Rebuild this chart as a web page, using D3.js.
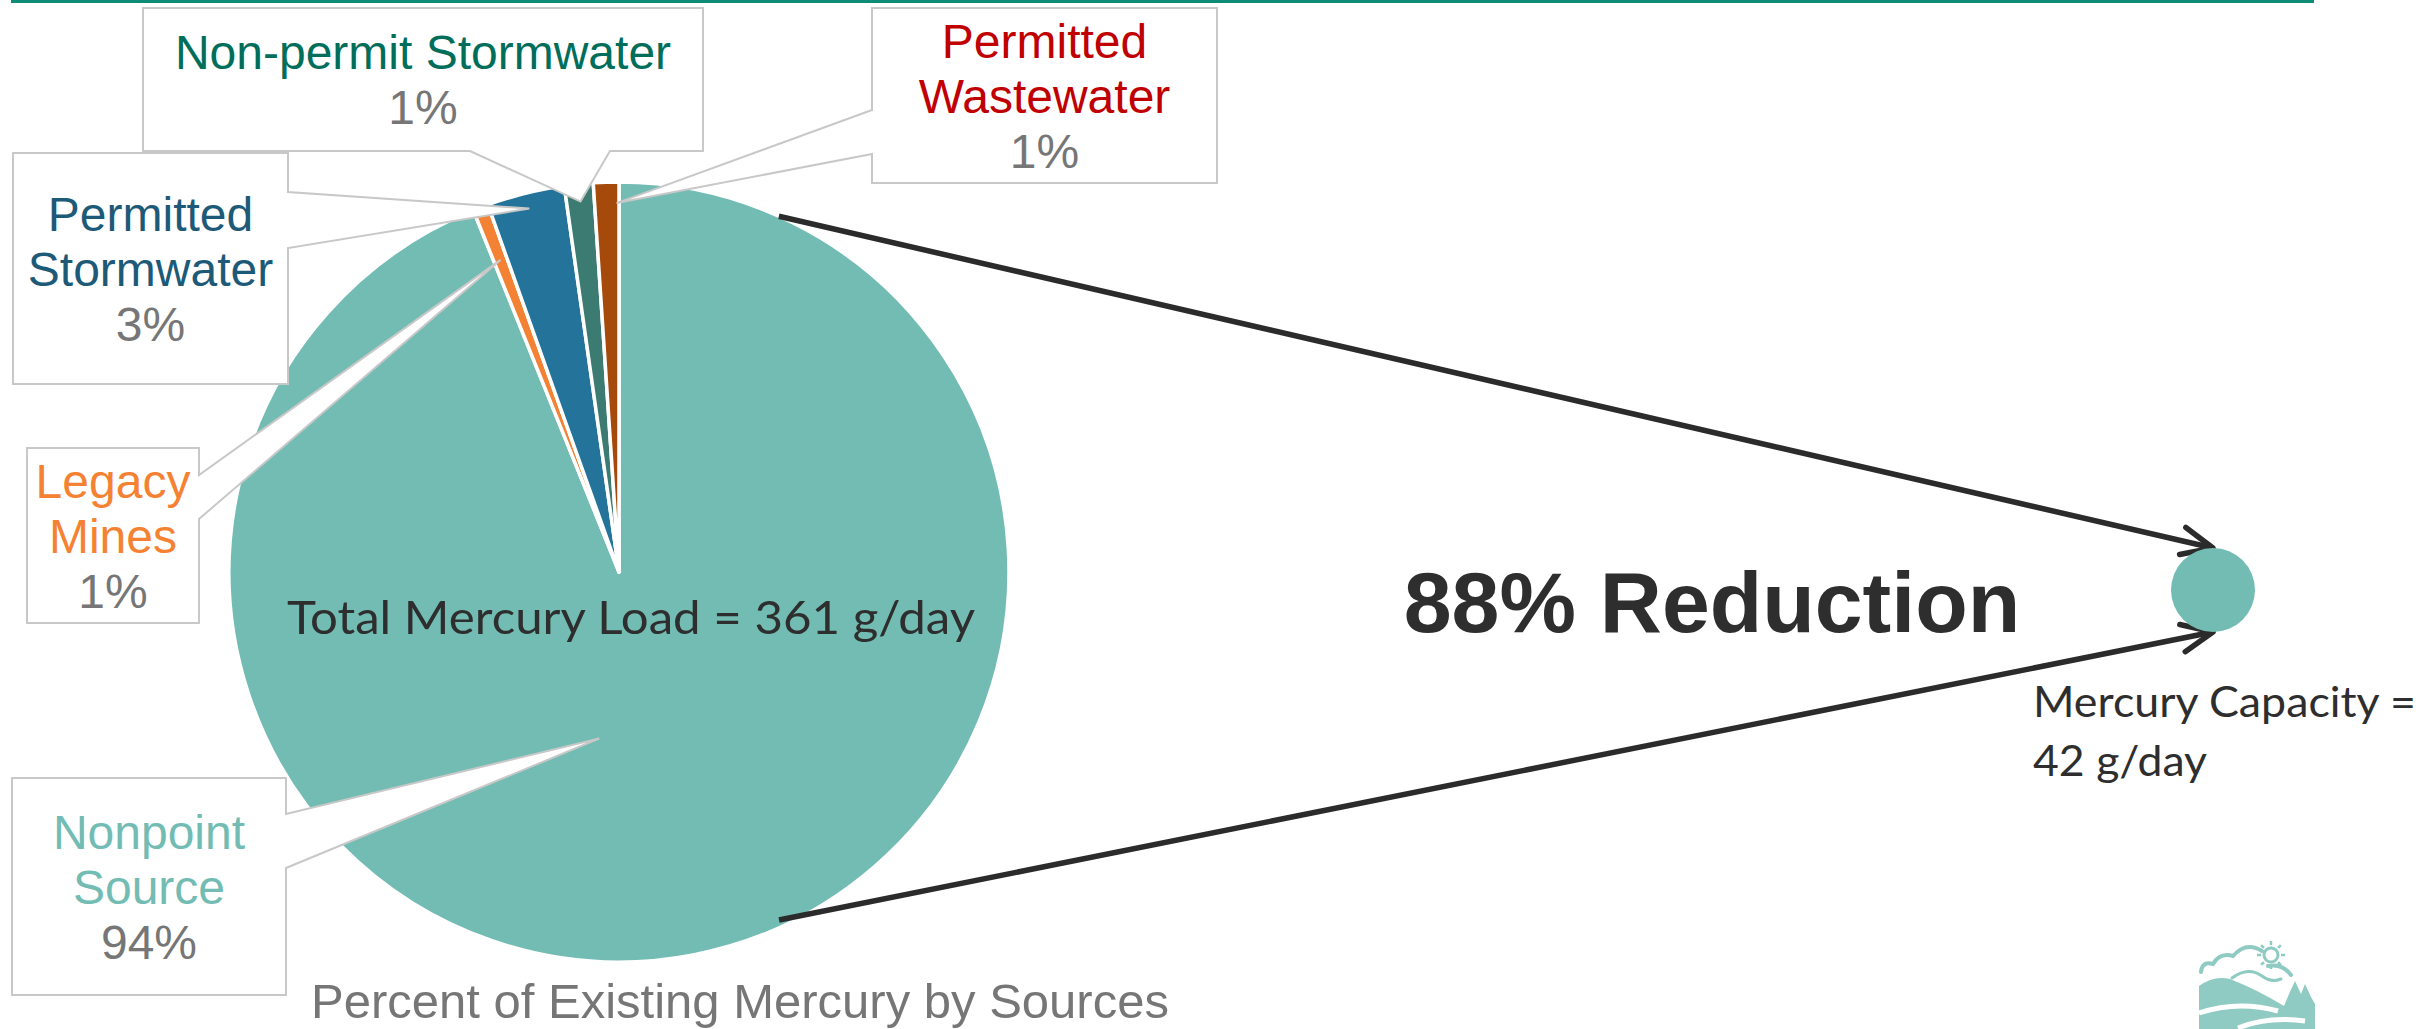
<!DOCTYPE html>
<html>
<head>
<meta charset="utf-8">
<script src="https://cdn.jsdelivr.net/npm/d3@7"></script>
<style>
  html, body { margin: 0; padding: 0; background: #fff; }
  svg { display: block; }
</style>
</head>
<body>
<div id="chart"></div>
<script>
// --- data (g/day; total is 361) ---
const sources = ['Nonpoint\nSource', 'Legacy\nMines', 'Permitted\nStormwater', 'Non-permit Stormwater', 'Permitted\nWastewater'];
const loads = [339, 2.3, 11.6, 4.3, 3.8];
const capacity = 42;
const chartTitle = 'Percent of Existing Mercury by Sources';

// --- styles ---
const sliceColors = ['#72bcb4', '#f38234', '#23739a', '#3b7b71', '#a64a0b'];
const labelColors = ['#72bcb4', '#f58232', '#1d5a78', '#006e5a', '#c00000'];
const pctColor = '#767676';
const darkText = '#2e2e2e';
const arial = '"Liberation Sans", Arial, sans-serif';
const calibri = 'Lato, "Open Sans", sans-serif';

// --- layout ---
const W = 2425, H = 1029;
const pieX = 619, pieY = 572, R = 390;
const capX = 2213, capY = 590, capR = 42;
// callout boxes: rectangle + which edge the pointer leaves from (p1..p2 along that edge)
const boxes = [
  { x0: 12, y0: 778, x1: 286, y1: 995, side: 'right', p1: 814, p2: 868 },
  { x0: 27, y0: 448, x1: 199, y1: 623, side: 'right', p1: 475, p2: 519 },
  { x0: 13, y0: 153, x1: 288, y1: 384, side: 'right', p1: 192, p2: 248 },
  { x0: 143, y0: 8, x1: 703, y1: 151, side: 'bottom', p1: 470, p2: 610 },
  { x0: 872, y0: 8, x1: 1217, y1: 183, side: 'left', p1: 110, p2: 154 }
];
// where the pointer tip sits inside its slice: [fraction of slice angle, fraction of radius]
const tipPos = [[0.5525, 0.43], [0.5, 0.856], [0.5, 0.96], [0.5, 0.955], [0.9, 0.946]];

const total = d3.sum(loads);

const svg = d3.select('#chart').append('svg')
  .attr('width', W)
  .attr('height', H)
  .attr('viewBox', [0, 0, W, H]);

svg.append('rect').attr('width', W).attr('height', H).attr('fill', '#fff');

// thin teal rule across the top
svg.append('line')
  .attr('x1', 11).attr('x2', 2314)
  .attr('y1', 1.5).attr('y2', 1.5)
  .attr('stroke', '#0f8c76')
  .attr('stroke-width', 3);

// --- pie ---
const pie = d3.pie().sort(null).value(d => d);
const arcs = pie(loads);
const arc = d3.arc().innerRadius(0).outerRadius(R);

const pieG = svg.append('g').attr('transform', `translate(${pieX},${pieY})`);
pieG.selectAll('path')
  .data(arcs)
  .join('path')
  .attr('d', arc)
  .attr('fill', (d, i) => sliceColors[i])
  .attr('stroke', '#fff')
  .attr('stroke-width', 3.5)
  .attr('stroke-linejoin', 'round');

function polar(angle, r) {
  return [pieX + r * Math.sin(angle), pieY - r * Math.cos(angle)];
}

function calloutPath(b, tip) {
  let pts;
  if (b.side === 'right') {
    pts = [[b.x0, b.y0], [b.x1, b.y0], [b.x1, b.p1], tip, [b.x1, b.p2], [b.x1, b.y1], [b.x0, b.y1]];
  } else if (b.side === 'left') {
    pts = [[b.x0, b.y0], [b.x1, b.y0], [b.x1, b.y1], [b.x0, b.y1], [b.x0, b.p2], tip, [b.x0, b.p1]];
  } else {
    pts = [[b.x0, b.y0], [b.x1, b.y0], [b.x1, b.y1], [b.p2, b.y1], tip, [b.p1, b.y1], [b.x0, b.y1]];
  }
  return d3.line()(pts) + 'Z';
}

// total load label inside the pie
svg.append('text')
  .attr('x', 287)
  .attr('y', 634)
  .attr('font-family', calibri)
  .attr('font-size', 47)
  .attr('fill', darkText)
  .attr('textLength', 688)
  .attr('lengthAdjust', 'spacingAndGlyphs')
  .text(`Total Mercury Load = ${Math.round(total)} g/day`);

// --- callouts ---
const lineH = 55, fontSize = 48, capH = fontSize * 0.716;
const callouts = svg.append('g');
arcs.forEach((d, i) => {
  const b = boxes[i];
  const [fa, fr] = tipPos[i];
  const tip = polar(d.startAngle + fa * (d.endAngle - d.startAngle), fr * R);
  const g = callouts.append('g');
  g.append('path')
    .attr('d', calloutPath(b, tip))
    .attr('fill', '#fff')
    .attr('stroke', '#c8c8c8')
    .attr('stroke-width', 2)
    .attr('stroke-linejoin', 'miter');

  const lines = sources[i].split('\n');
  const pct = `${Math.round(d.data / total * 100)}%`;
  const all = lines.concat([pct]);
  const midX = (b.x0 + b.x1) / 2;
  const midY = (b.y0 + b.y1) / 2;
  const firstBase = midY - (all.length - 1) * lineH / 2 + capH / 2;
  g.selectAll('text')
    .data(all)
    .join('text')
    .attr('x', midX)
    .attr('y', (t, k) => firstBase + k * lineH)
    .attr('text-anchor', 'middle')
    .attr('font-family', arial)
    .attr('font-size', fontSize)
    .attr('fill', (t, k) => k === all.length - 1 ? pctColor : labelColors[i])
    .text(t => t);
});

// chart title under the pie
svg.append('text')
  .attr('x', 740)
  .attr('y', 1018)
  .attr('text-anchor', 'middle')
  .attr('font-family', arial)
  .attr('font-size', 49)
  .attr('fill', pctColor)
  .text(chartTitle);

// --- arrows from the pie to the capacity circle ---
const arrowStarts = [[24.2, 1.0], [155.3, 0.982]]; // degrees clockwise from 12 o'clock, radius fraction
const arrowEnds = [[capX, capY - capR], [capX, capY + capR]];
const arrowG = svg.append('g')
  .attr('stroke', '#2b2b2b')
  .attr('stroke-width', 5.5)
  .attr('fill', 'none');

arrowStarts.forEach(([deg, fr], i) => {
  const s = polar(deg * Math.PI / 180, fr * R);
  const e = arrowEnds[i];
  arrowG.append('path')
    .attr('d', d3.line()([s, e]));
  const ang = Math.atan2(e[1] - s[1], e[0] - s[0]);
  const len = 34, spread = 24 * Math.PI / 180;
  const a1 = [e[0] - len * Math.cos(ang - spread), e[1] - len * Math.sin(ang - spread)];
  const a2 = [e[0] - len * Math.cos(ang + spread), e[1] - len * Math.sin(ang + spread)];
  arrowG.append('path')
    .attr('d', d3.line()([a1, e, a2]))
    .attr('stroke-linecap', 'round')
    .attr('stroke-linejoin', 'round');
});

svg.append('circle')
  .attr('cx', capX)
  .attr('cy', capY)
  .attr('r', capR)
  .attr('fill', sliceColors[0]);

svg.append('text')
  .attr('x', 1712)
  .attr('y', 632)
  .attr('text-anchor', 'middle')
  .attr('font-family', arial)
  .attr('font-weight', 'bold')
  .attr('font-size', 86)
  .attr('fill', darkText)
  .text(`${Math.round((1 - capacity / total) * 100)}% Reduction`);

const capText = svg.append('g')
  .attr('font-family', calibri)
  .attr('font-size', 42)
  .attr('fill', darkText);
capText.append('text')
  .attr('x', 2033).attr('y', 717)
  .attr('textLength', 383)
  .attr('lengthAdjust', 'spacingAndGlyphs')
  .text('Mercury Capacity =');
capText.append('text')
  .attr('x', 2033).attr('y', 776)
  .attr('textLength', 174)
  .attr('lengthAdjust', 'spacingAndGlyphs')
  .text(`${capacity} g/day`);

// --- small landscape logo, bottom right ---
const logoColor = '#8fcbc3';
const logo = svg.append('g');
logo.append('path')
  .attr('d', 'M2199,986 Q2214,975 2230,979 Q2258,990 2284,1006 L2289,994 L2295,981 L2301,994 L2305,984 L2311,997 L2315,1004 L2315,1029 L2199,1029 Z')
  .attr('fill', logoColor);
logo.append('path')
  .attr('d', 'M2199,1013 Q2238,1000 2278,1011 M2238,1028 Q2268,1016 2305,1021')
  .attr('fill', 'none')
  .attr('stroke', '#fff')
  .attr('stroke-width', 5);
logo.append('path')
  .attr('d', 'M2201,972 Q2202,961 2213,964 Q2220,952 2233,956 Q2246,941 2262,951 M2268,966 Q2282,963 2291,975')
  .attr('fill', 'none')
  .attr('stroke', logoColor)
  .attr('stroke-width', 4)
  .attr('stroke-linecap', 'round');
logo.append('path')
  .attr('d', 'M2232,978 Q2248,966 2262,976 Q2271,983 2281,979')
  .attr('fill', 'none')
  .attr('stroke', logoColor)
  .attr('stroke-width', 3)
  .attr('stroke-linecap', 'round');
logo.append('circle')
  .attr('cx', 2271).attr('cy', 955).attr('r', 7)
  .attr('fill', 'none')
  .attr('stroke', logoColor)
  .attr('stroke-width', 3);
d3.range(8).forEach(k => {
  const a = k * Math.PI / 4;
  logo.append('line')
    .attr('x1', 2271 + 10 * Math.cos(a)).attr('y1', 955 + 10 * Math.sin(a))
    .attr('x2', 2271 + 14 * Math.cos(a)).attr('y2', 955 + 14 * Math.sin(a))
    .attr('stroke', logoColor)
    .attr('stroke-width', 2.5);
});
</script>
</body>
</html>
